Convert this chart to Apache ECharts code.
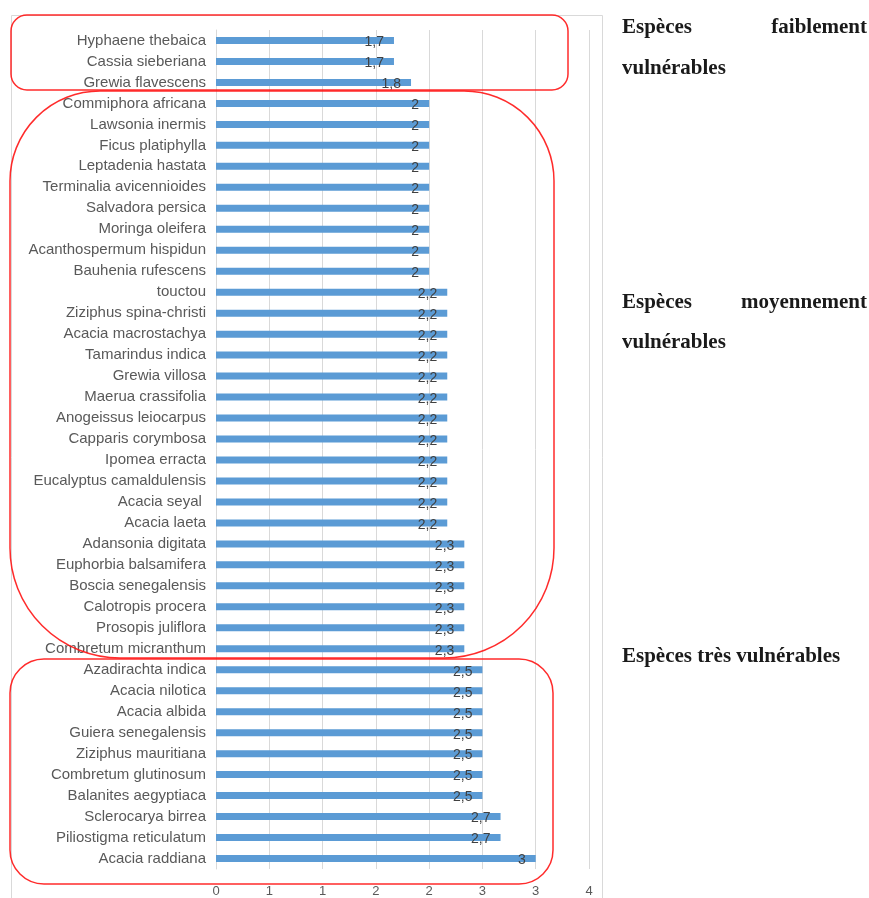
<!DOCTYPE html>
<html>
<head>
<meta charset="utf-8">
<script src="https://cdn.jsdelivr.net/npm/echarts@6/dist/echarts.min.js"></script>
<style>
  html, body { margin: 0; padding: 0; background: #fff; }
  #chart { width: 869px; height: 898px; }
</style>
</head>
<body>
<div id="chart"></div>
<script>
// espèces, de haut en bas
const species = [
  'Hyphaene thebaica', 'Cassia sieberiana', 'Grewia flavescens',
  'Commiphora africana', 'Lawsonia inermis', 'Ficus platiphylla', 'Leptadenia hastata',
  'Terminalia avicennioides', 'Salvadora persica', 'Moringa oleifera',
  'Acanthospermum hispidun', 'Bauhenia rufescens', 'touctou', 'Ziziphus spina-christi',
  'Acacia macrostachya', 'Tamarindus indica', 'Grewia villosa', 'Maerua crassifolia',
  'Anogeissus leiocarpus', 'Capparis corymbosa', 'Ipomea erracta',
  'Eucalyptus camaldulensis', 'Acacia seyal ', 'Acacia laeta', 'Adansonia digitata',
  'Euphorbia balsamifera', 'Boscia senegalensis', 'Calotropis procera',
  'Prosopis juliflora', 'Combretum micranthum',
  'Azadirachta indica', 'Acacia nilotica', 'Acacia albida', 'Guiera senegalensis',
  'Ziziphus mauritiana', 'Combretum glutinosum', 'Balanites aegyptiaca',
  'Sclerocarya birrea', 'Piliostigma reticulatum', 'Acacia raddiana'
];
// indice de vulnérabilité
const scores = [
  1.67, 1.67, 1.83,
  2, 2, 2, 2, 2, 2, 2, 2, 2,
  2.17, 2.17, 2.17, 2.17, 2.17, 2.17, 2.17, 2.17, 2.17, 2.17, 2.17, 2.17,
  2.33, 2.33, 2.33, 2.33, 2.33, 2.33,
  2.5, 2.5, 2.5, 2.5, 2.5, 2.5, 2.5,
  2.67, 2.67, 3
];
const groupTitles = [
  ['Espèces', 'faiblement', 'vulnérables'],
  ['Espèces', 'moyennement', 'vulnérables'],
  ['Espèces très vulnérables']
];

const fmt = v => String(Number(v.toFixed(1))).replace('.', ',');
const red = 'rgba(255,20,20,0.9)';
const titleFont = 'bold 21px "Liberation Serif", serif';
const ink = '#1a1a1a';

let chart = echarts.init(document.getElementById('chart'));
let options = {
  animation: false,
  grid: { left: 216, right: 280, top: 30, bottom: 29, containLabel: false },
  xAxis: {
    type: 'value',
    min: 0,
    max: 3.5,
    interval: 0.5,
    axisLine: { show: false },
    axisTick: { show: false },
    axisLabel: {
      color: '#595959',
      fontSize: 13,
      fontFamily: 'Liberation Sans',
      margin: 16,
      formatter: v => String(Math.round(v))
    },
    splitLine: { lineStyle: { color: '#d9d9d9', width: 1 } }
  },
  yAxis: {
    type: 'category',
    inverse: true,
    data: species,
    axisLine: { lineStyle: { color: '#d9d9d9' } },
    axisTick: { show: false },
    axisLabel: {
      color: '#595959',
      fontSize: 15,
      fontFamily: 'Liberation Sans',
      margin: 10,
      padding: [5, 0, 0, 0]
    }
  },
  series: [
    {
      type: 'bar',
      data: scores,
      barWidth: 7,
      itemStyle: { color: '#5B9BD5' },
      label: {
        show: true,
        position: 'insideRight',
        distance: 10,
        offset: [0, 2],
        color: '#404040',
        fontSize: 14,
        fontFamily: 'Liberation Sans',
        formatter: p => fmt(p.value)
      }
    }
  ],
  graphic: [
    // cadre du graphique
    { type: 'rect', z: 0, shape: { x: 11.5, y: 15.5, width: 591, height: 900 },
      style: { fill: 'none', stroke: '#d9d9d9', lineWidth: 1 } },
    // groupes
    { type: 'rect', z: 10, shape: { x: 11, y: 15, width: 557, height: 75, r: 16 },
      style: { fill: 'none', stroke: red, lineWidth: 1.5 } },
    { type: 'rect', z: 10, shape: { x: 10, y: 91, width: 544, height: 567, r: [90, 90, 110, 110] },
      style: { fill: 'none', stroke: red, lineWidth: 1.5 } },
    { type: 'rect', z: 10, shape: { x: 10, y: 659, width: 543, height: 225, r: 34 },
      style: { fill: 'none', stroke: red, lineWidth: 1.5 } },
    // titres à droite
    { type: 'text', left: 622, top: 17, style: { text: groupTitles[0][0], font: titleFont, fill: ink } },
    { type: 'text', right: 2, top: 17, style: { text: groupTitles[0][1], font: titleFont, fill: ink } },
    { type: 'text', left: 622, top: 58, style: { text: groupTitles[0][2], font: titleFont, fill: ink } },
    { type: 'text', left: 622, top: 292, style: { text: groupTitles[1][0], font: titleFont, fill: ink } },
    { type: 'text', right: 2, top: 292, style: { text: groupTitles[1][1], font: titleFont, fill: ink } },
    { type: 'text', left: 622, top: 332, style: { text: groupTitles[1][2], font: titleFont, fill: ink } },
    { type: 'text', left: 622, top: 646, style: { text: groupTitles[2][0], font: titleFont, fill: ink } }
  ]
};
chart.setOption(options);
window.addEventListener('resize', function () {
  chart && chart.resize();
});
</script>
</body>
</html>
